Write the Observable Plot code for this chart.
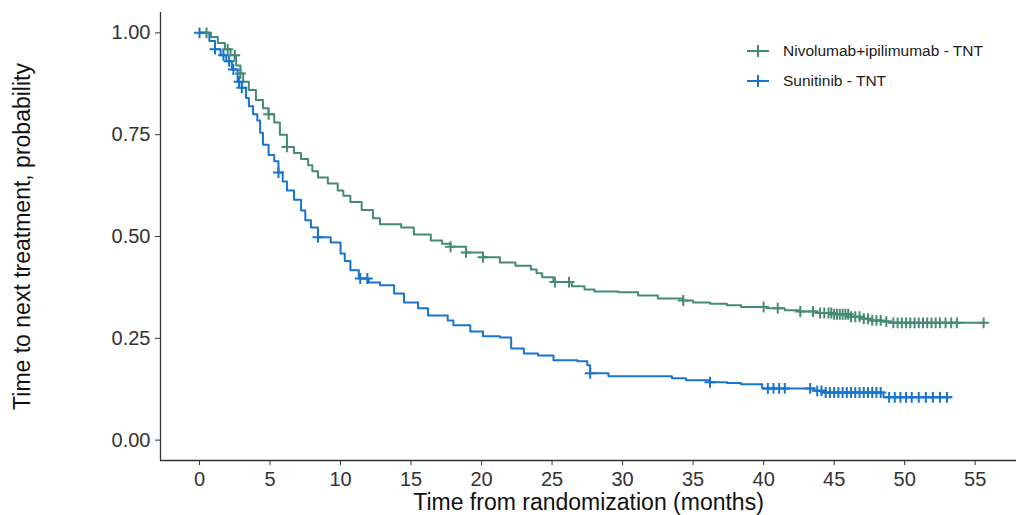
<!DOCTYPE html>
<html><head><meta charset="utf-8">
<script src="https://cdn.jsdelivr.net/npm/d3@7"></script>
<script src="https://cdn.jsdelivr.net/npm/@observablehq/plot@0.6"></script>
<style>
body{margin:0;background:#fff;font-family:"Liberation Sans",Arial,sans-serif;}
#wrap{position:relative;width:1016px;height:515px;}
#legend{position:absolute;left:745px;top:36px;font-size:15.5px;color:#1a1a1a;}
.item{display:flex;align-items:center;height:30px;}
.item svg{margin-right:12px;}
</style></head><body>
<div id="wrap"><div id="chart"></div><div id="legend"></div></div>
<script>
// ---- data ----
const seriesNames = ["Nivolumab+ipilimumab - TNT", "Sunitinib - TNT"];
const seriesColors = ["#458B74", "#1874CD"];

const nivoTime = [0, 0.8, 1.3, 1.8, 2.2, 2.6, 2.9, 3.1, 3.5, 4.0, 4.5, 4.9, 5.3, 5.7, 6.2, 6.7, 7.2, 7.7, 8.0, 8.4, 9.1, 9.8, 10.2, 10.7, 11.5, 12.3, 12.8, 14.3, 15.2, 16.4, 17.2, 17.8, 18.9, 20.1, 21.3, 22.4, 23.5, 23.9, 24.3, 25.1, 26.4, 27.3, 28.0, 29.7, 31.1, 32.5, 34.3, 35.0, 36.2, 37.4, 38.4, 40.2, 41.5, 42.5, 43.8, 45.0, 46.2, 47.1, 47.6, 48.4, 49.0, 55.6];
const nivoSurv = [1.0, 0.99, 0.975, 0.96, 0.945, 0.92, 0.90, 0.88, 0.86, 0.835, 0.815, 0.80, 0.78, 0.75, 0.72, 0.705, 0.69, 0.675, 0.66, 0.645, 0.63, 0.613, 0.60, 0.585, 0.565, 0.545, 0.53, 0.522, 0.505, 0.49, 0.482, 0.475, 0.461, 0.449, 0.436, 0.428, 0.419, 0.41, 0.40, 0.388, 0.378, 0.37, 0.365, 0.363, 0.355, 0.348, 0.343, 0.338, 0.335, 0.331, 0.327, 0.324, 0.319, 0.316, 0.312, 0.309, 0.303, 0.298, 0.294, 0.291, 0.288, 0.288];
const nivoCensor = [0.5, 2.0, 2.5, 2.9, 4.9, 6.2, 17.8, 18.9, 20.1, 25.2, 26.2, 34.3, 40.0, 41.0, 42.6, 43.5, 44.0, 44.3, 44.6, 44.8, 45.0, 45.2, 45.4, 45.6, 45.8, 46.0, 46.2, 46.5, 46.8, 47.1, 47.4, 47.7, 48.0, 48.3, 48.7, 49.2, 49.5, 49.8, 50.1, 50.4, 50.7, 51.0, 51.3, 51.6, 51.9, 52.2, 52.5, 52.9, 53.3, 53.7, 55.6];

const suniTime = [0, 0.7, 1.1, 1.5, 1.9, 2.3, 2.7, 3.0, 3.3, 3.5, 3.8, 4.1, 4.3, 4.5, 4.9, 5.3, 5.6, 5.9, 6.2, 6.7, 7.2, 7.5, 7.9, 8.4, 9.3, 10.0, 10.3, 10.7, 11.3, 12.0, 12.8, 13.8, 14.5, 15.5, 16.2, 17.6, 18.0, 19.2, 20.1, 21.3, 22.1, 23.0, 24.0, 25.1, 26.8, 27.5, 27.7, 29.0, 33.5, 34.5, 36.2, 37.4, 38.4, 39.9, 43.6, 44.2, 48.5, 53.3];
const suniSurv = [1.0, 0.98, 0.96, 0.945, 0.93, 0.91, 0.88, 0.865, 0.84, 0.82, 0.80, 0.785, 0.755, 0.725, 0.70, 0.685, 0.657, 0.635, 0.613, 0.59, 0.564, 0.54, 0.522, 0.498, 0.485, 0.458, 0.44, 0.417, 0.397, 0.387, 0.38, 0.36, 0.338, 0.324, 0.306, 0.294, 0.282, 0.267, 0.255, 0.252, 0.225, 0.213, 0.208, 0.196, 0.194, 0.184, 0.164, 0.157, 0.152, 0.147, 0.142, 0.14, 0.137, 0.127, 0.121, 0.117, 0.105, 0.105];
const suniCensor = [0, 1.1, 1.7, 2.1, 2.4, 2.8, 3.0, 5.6, 8.4, 11.4, 11.9, 27.7, 36.2, 40.3, 40.7, 41.1, 41.5, 43.3, 43.8, 44.1, 44.4, 44.7, 45.0, 45.3, 45.6, 45.9, 46.2, 46.5, 46.8, 47.1, 47.4, 47.7, 48.0, 48.3, 48.9, 49.3, 49.7, 50.1, 50.5, 51.0, 51.5, 52.0, 52.5, 53.0];

const xTicks = [0, 5, 10, 15, 20, 25, 30, 35, 40, 45, 50, 55];
const yTicks = [0, 0.25, 0.5, 0.75, 1];
const xTitle = "Time from randomization (months)";
const yTitle = "Time to next treatment, probability";

// ---- build tables ----
function stepAt(times, surv, t) {
  let s = surv[0];
  for (let i = 0; i < times.length; i++) { if (times[i] <= t) s = surv[i]; else break; }
  return s;
}
const curves = [], censors = [];
[[nivoTime, nivoSurv, nivoCensor], [suniTime, suniSurv, suniCensor]].forEach(([T, S, C], k) => {
  T.forEach((t, i) => curves.push({t, s: S[i], series: seriesNames[k]}));
  C.forEach(t => censors.push({t, s: stepAt(T, S, t), series: seriesNames[k]}));
});

const xMin = -2.765, xMax = 57.93, yMin = -0.05, yMax = 1.05;
const axisColor = "#333";

const chart = Plot.plot({
  width: 1016, height: 515,
  marginLeft: 160, marginRight: 0, marginTop: 12, marginBottom: 55,
  style: {fontFamily: '"Liberation Sans", Arial, sans-serif', background: "#fff"},
  x: {domain: [xMin, xMax]},
  y: {domain: [yMin, yMax]},
  color: {domain: seriesNames, range: seriesColors},
  marks: [
    Plot.line(curves, {x: "t", y: "s", z: "series", stroke: "series", curve: "step-after", strokeWidth: 2}),
    Plot.dot(censors, {x: "t", y: "s", stroke: "series", symbol: "plus", r: 3.6, strokeWidth: 2}),
    Plot.ruleX([xMin], {stroke: axisColor, strokeWidth: 1.3}),
    Plot.ruleY([yMin], {stroke: axisColor, strokeWidth: 1.3}),
    Plot.axisX({ticks: xTicks, tickSize: 5, tickPadding: 6, fontSize: 20, label: null, stroke: axisColor, color: "#333"}),
    Plot.axisY({ticks: yTicks, tickSize: 5, tickPadding: 5, fontSize: 20, label: null, tickFormat: d3.format(".2f"), stroke: axisColor, color: "#333"}),
    Plot.text([xTitle], {frameAnchor: "bottom", lineAnchor: "middle", dy: 42.6, fontSize: 23, fill: "#111"}),
    Plot.text([yTitle], {frameAnchor: "left", textAnchor: "middle", lineAnchor: "middle", rotate: -90, dx: -137.5, fontSize: 23, fill: "#111"})
  ]
});
document.getElementById("chart").appendChild(chart);

// ---- legend ----
const legend = document.getElementById("legend");
seriesNames.forEach((name, i) => {
  const row = document.createElement("div");
  row.className = "item";
  row.innerHTML = `<svg width="26" height="16"><line x1="2" x2="24" y1="8" y2="8" stroke="${seriesColors[i]}" stroke-width="2"/><line x1="13" x2="13" y1="2" y2="14" stroke="${seriesColors[i]}" stroke-width="2"/><line x1="8" x2="18" y1="8" y2="8" stroke="${seriesColors[i]}" stroke-width="2"/></svg><span>${name}</span>`;
  legend.appendChild(row);
});
</script>
</body></html>
